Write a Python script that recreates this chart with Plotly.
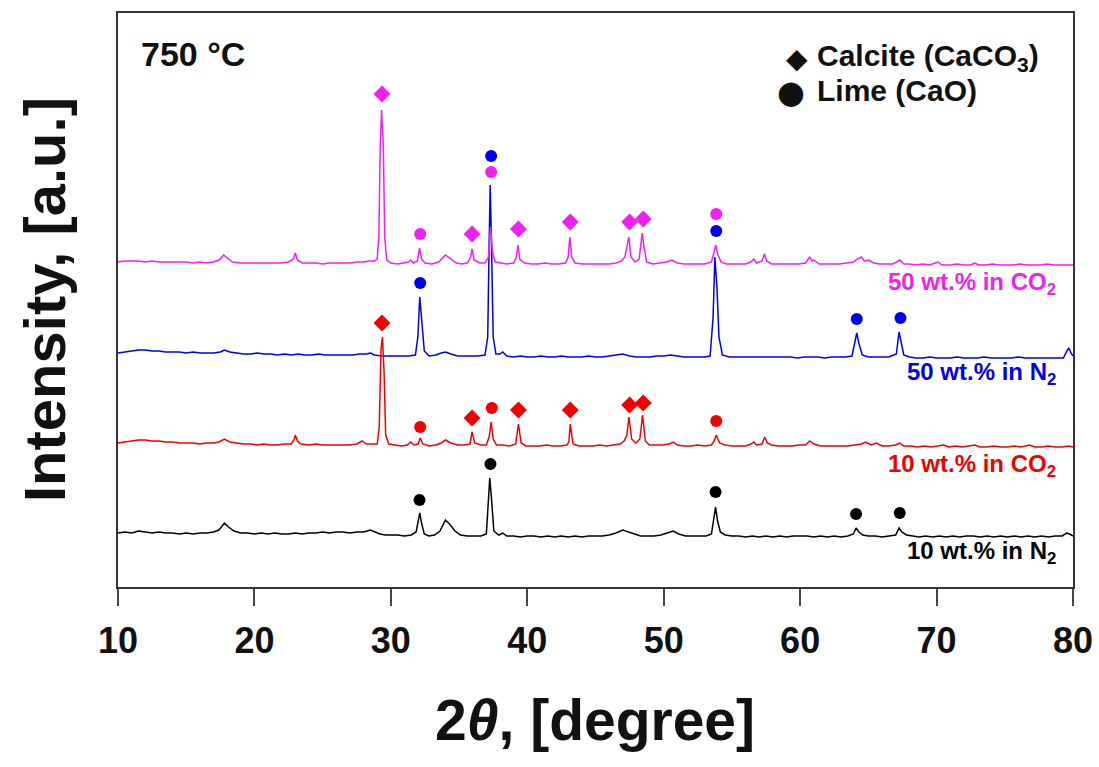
import plotly.graph_objects as go

# ---------------- data (2theta [deg], intensity [a.u., offset stacked]) ----------------
pattern_10_N2 = [
    (10.0,54),(10.5,55),(11.0,54),(11.5,56),(12.0,55),(12.5,54),(13.0,55),(13.5,54),(14.0,54),(14.5,53),
    (15.0,54),(15.5,53),(16.0,54),(16.5,54),(17.0,55),(17.4,57),(17.8,64),(18.1,60),(18.5,56),(19.0,54),
    (19.5,54),(20.0,53),(20.5,54),(21.0,53),(21.5,54),(22.0,53),(22.5,53),(23.0,54),(23.5,53),(24.0,54),
    (24.5,54),(25.0,55),(25.5,54),(26.0,55),(26.5,55),(27.0,54),(27.5,55),(28.0,55),(28.5,57),(28.8,55),
    (29.2,53),(29.6,52),(30.0,52),(30.5,52),(31.0,51),(31.5,52),(31.85,55),(32.0,68),(32.12,74),(32.25,64),
    (32.45,53),(32.8,51),(33.2,52),(33.6,56),(34.0,67),(34.3,63),(34.7,56),(35.1,52),(35.6,51),(36.1,51),
    (36.6,51),(37.0,53),(37.12,80),(37.25,109),(37.38,88),(37.55,56),(37.9,52),(38.2,54),(38.5,51),(39.0,51),
    (39.5,50),(40.0,51),(40.5,51),(41.0,50),(41.5,51),(42.0,50),(42.5,51),(43.0,50),(43.5,51),(44.0,50),
    (44.5,51),(45.0,51),(45.5,51),(46.0,52),(46.5,54),(47.0,57),(47.4,55),(47.8,53),(48.3,51),(48.8,51),
    (49.3,51),(49.8,52),(50.3,54),(50.7,56),(51.1,53),(51.6,51),(52.1,51),(52.6,51),(53.1,51),(53.5,53),
    (53.68,70),(53.8,80),(53.95,66),(54.15,55),(54.5,52),(55.0,51),(55.5,51),(56.0,50),(56.5,51),(57.0,50),
    (57.5,51),(58.0,50),(58.5,51),(59.0,50),(59.5,51),(60.0,51),(60.5,51),(61.0,50),(61.5,51),(62.0,50),
    (62.5,51),(63.0,50),(63.5,51),(63.9,53),(64.1,59),(64.3,55),(64.6,52),(65.0,51),(65.5,51),(66.0,50),
    (66.5,51),(67.0,52),(67.25,59),(67.45,55),(67.8,52),(68.2,51),(68.7,50),(69.2,51),(69.7,50),(70.2,51),
    (70.7,50),(71.2,51),(71.7,50),(72.2,51),(72.7,51),(73.2,50),(73.7,51),(74.2,50),(74.7,51),(75.2,50),
    (75.7,51),(76.2,50),(76.7,51),(77.2,50),(77.7,51),(78.2,50),(78.7,51),(79.2,51),(79.55,54),(79.75,53),
    (80.0,51),
]

pattern_10_CO2 = [
    (10.0,144),(10.5,145),(11.0,146),(11.5,147),(12.0,147),(12.5,146),(13.0,146),(13.5,145),(14.0,145),(14.5,144),
    (15.0,144),(15.5,144),(16.0,143),(16.5,144),(17.0,144),(17.4,145),(17.8,148),(18.2,145),(18.7,144),(19.2,143),
    (19.7,143),(20.2,142),(20.7,143),(21.2,142),(21.7,142),(22.2,143),(22.7,143),(22.9,147),(23.0,152),(23.15,146),
    (23.4,143),(24.0,142),(24.5,143),(25.0,142),(25.5,142),(26.0,142),(26.5,142),(27.0,142),(27.5,143),(27.9,146),
    (28.2,143),(28.6,143),(29.0,143),(29.15,160),(29.28,238),(29.38,250),(29.5,215),(29.62,152),(29.85,143),(30.3,142),
    (30.8,141),(31.2,142),(31.45,145),(31.7,142),(32.0,143),(32.15,149),(32.35,143),(32.8,141),(33.3,142),(33.7,144),
    (34.0,147),(34.4,144),(34.9,142),(35.4,142),(35.8,143),(35.95,155),(36.15,144),(36.6,142),(37.0,142),(37.2,150),
    (37.35,165),(37.5,148),(37.75,142),(38.2,142),(38.7,141),(39.15,143),(39.35,163),(39.55,144),(39.9,141),(40.4,141),
    (40.9,141),(41.4,142),(41.9,141),(42.4,141),(42.9,142),(43.05,145),(43.15,163),(43.35,143),(43.8,141),(44.3,141),
    (44.8,141),(45.3,142),(45.8,141),(46.3,142),(46.8,143),(47.1,146),(47.3,152),(47.45,170),(47.65,148),(47.95,144),
    (48.25,148),(48.45,172),(48.65,146),(48.95,142),(49.4,142),(49.9,142),(50.4,143),(50.7,145),(51.0,142),(51.5,141),
    (52.0,141),(52.5,142),(53.0,141),(53.5,142),(53.7,146),(53.85,152),(54.1,144),(54.5,142),(55.0,141),(55.5,141),
    (56.0,141),(56.4,143),(56.6,145),(56.8,142),(57.2,143),(57.4,150),(57.6,144),(57.9,142),(58.4,141),(58.9,141),
    (59.4,141),(59.9,142),(60.4,142),(60.7,146),(61.0,143),(61.5,141),(62.0,141),(62.5,141),(63.0,141),(63.5,141),
    (64.0,142),(64.5,143),(64.8,145),(65.2,142),(65.6,144),(66.0,141),(66.5,141),(67.0,142),(67.3,144),(67.6,141),
    (68.1,141),(68.6,140),(69.1,141),(69.6,140),(70.1,141),(70.5,142),(70.9,140),(71.4,141),(71.9,140),(72.4,141),
    (72.8,142),(73.2,140),(73.7,140),(74.2,141),(74.7,140),(75.2,140),(75.7,141),(76.2,140),(76.8,142),(77.2,140),
    (77.7,140),(78.2,141),(78.7,140),(79.2,140),(79.7,141),(80.0,140),
]

pattern_50_N2 = [
    (10.0,234),(10.5,235),(11.0,236),(11.5,237),(12.0,237),(12.5,236),(13.0,236),(13.5,235),(14.0,235),(14.5,235),
    (15.0,234),(15.5,235),(16.0,234),(16.5,234),(17.0,234),(17.5,235),(17.8,237),(18.2,235),(18.7,234),(19.2,233),
    (19.7,233),(20.2,234),(20.7,233),(21.2,233),(21.7,232),(22.2,233),(22.7,232),(23.2,233),(23.7,232),(24.2,232),
    (24.7,233),(25.2,232),(25.7,232),(26.2,232),(26.7,232),(27.2,232),(27.7,233),(28.2,233),(28.5,234),(28.8,232),
    (29.3,231),(29.8,231),(30.3,231),(30.8,231),(31.3,231),(31.8,232),(31.98,250),(32.12,290),(32.28,262),(32.45,236),
    (32.8,231),(33.3,232),(33.7,234),(34.0,235),(34.4,233),(34.9,231),(35.4,231),(35.9,231),(36.4,231),(36.9,232),
    (37.1,250),(37.2,340),(37.28,402),(37.38,340),(37.5,250),(37.7,233),(38.0,233),(38.2,235),(38.5,231),(39.0,230),
    (39.5,231),(40.0,230),(40.5,230),(41.0,231),(41.5,230),(42.0,230),(42.5,231),(43.0,230),(43.5,230),(44.0,230),
    (44.5,231),(45.0,230),(45.5,230),(46.0,231),(46.5,232),(47.0,233),(47.5,231),(48.0,230),(48.5,230),(49.0,230),
    (49.5,231),(50.0,231),(50.5,232),(51.0,231),(51.5,230),(52.0,230),(52.5,230),(53.0,230),(53.4,231),(53.62,270),
    (53.75,330),(53.9,300),(54.05,250),(54.3,232),(54.8,230),(55.3,230),(55.8,230),(56.3,230),(56.8,230),(57.3,230),
    (57.8,230),(58.3,230),(58.8,230),(59.3,230),(59.8,229),(60.3,230),(60.8,230),(61.3,230),(61.8,229),(62.3,230),
    (62.8,230),(63.3,230),(63.8,231),(64.0,243),(64.15,254),(64.3,244),(64.55,232),(65.0,230),(65.5,230),(66.0,230),
    (66.5,230),(67.05,233),(67.25,255),(67.4,245),(67.6,232),(68.0,230),(68.5,229),(69.0,229),(69.5,230),(70.0,229),
    (70.5,229),(71.0,229),(71.5,230),(72.0,229),(72.5,229),(73.0,229),(73.5,230),(74.0,229),(74.5,229),(75.0,229),
    (75.5,229),(76.0,230),(76.5,229),(77.0,229),(77.5,229),(78.0,229),(78.5,229),(79.0,229),(79.3,229),(79.55,236),
    (79.7,239),(79.85,234),(80.0,231),
]

pattern_50_CO2 = [
    (10.0,325),(10.5,326),(11.0,326),(11.5,326),(12.0,325),(12.5,326),(13.0,325),(13.5,325),(14.0,325),(14.5,325),
    (15.0,325),(15.5,324),(16.0,325),(16.5,324),(17.0,325),(17.4,327),(17.75,332),(18.0,329),(18.4,325),(19.0,324),
    (19.5,324),(20.0,324),(20.5,324),(21.0,324),(21.5,324),(22.0,324),(22.5,325),(22.85,328),(23.0,334),(23.15,327),
    (23.5,324),(24.0,324),(24.5,324),(25.0,323),(25.5,324),(26.0,324),(26.5,324),(27.0,324),(27.5,325),(28.0,325),
    (28.4,326),(28.8,326),(29.0,328),(29.12,350),(29.22,440),(29.32,477),(29.45,440),(29.55,350),(29.7,327),(30.0,324),
    (30.5,323),(31.0,324),(31.3,325),(31.45,327),(31.65,324),(31.95,326),(32.1,339),(32.25,328),(32.5,324),(33.0,323),
    (33.5,325),(34.0,332),(34.4,328),(34.8,324),(35.2,323),(35.6,324),(35.85,330),(35.95,338),(36.1,327),(36.5,324),
    (36.9,324),(37.15,330),(37.3,360),(37.45,335),(37.65,325),(38.0,324),(38.5,323),(39.0,324),(39.2,330),(39.32,342),
    (39.45,328),(39.8,324),(40.3,323),(40.8,323),(41.3,324),(41.8,323),(42.3,323),(42.8,324),(43.0,330),(43.12,350),
    (43.25,330),(43.5,324),(44.0,323),(44.5,323),(45.0,323),(45.5,323),(46.0,323),(46.5,324),(46.9,326),(47.15,330),
    (47.35,345),(47.45,350),(47.6,330),(47.9,325),(48.2,328),(48.42,354),(48.55,340),(48.75,325),(49.2,323),(49.7,324),
    (50.2,325),(50.6,327),(51.0,324),(51.5,323),(52.0,323),(52.5,323),(53.0,323),(53.5,325),(53.7,335),(53.82,342),
    (53.95,333),(54.2,325),(54.6,323),(55.0,323),(55.5,323),(56.0,323),(56.4,325),(56.6,328),(56.8,324),(57.2,326),
    (57.38,333),(57.55,326),(57.9,323),(58.4,323),(58.9,323),(59.4,323),(59.9,323),(60.4,324),(60.7,330),(60.85,326),
    (61.0,327),(61.4,323),(61.9,323),(62.4,323),(62.9,323),(63.4,324),(63.9,325),(64.2,328),(64.5,330),(64.7,326),
    (65.0,327),(65.4,324),(65.8,323),(66.3,323),(66.8,323),(67.3,327),(67.6,323),(68.0,323),(68.5,322),(69.0,323),
    (69.5,322),(70.1,325),(70.4,322),(71.0,322),(71.5,323),(72.0,322),(72.5,322),(72.8,324),(73.1,322),(73.6,322),
    (74.1,323),(74.6,322),(75.1,322),(75.6,322),(76.1,323),(76.6,322),(77.1,322),(77.6,322),(78.1,323),(78.6,322),
    (79.1,322),(79.6,322),(80.0,322),
]

# phase markers above peaks: (2theta, height)
calcite_50_CO2 = [(29.35,493),(35.95,353),(39.35,358),(43.15,365),(47.5,365),(48.5,368)]
lime_50_CO2 = [(32.15,353),(37.35,415),(53.85,373)]
lime_50_N2 = [(32.15,304),(37.35,431),(53.85,356),(64.15,268),(67.35,269)]
calcite_10_CO2 = [(29.35,264),(35.95,169),(39.35,177),(43.15,177),(47.5,182),(48.5,184)]
lime_10_CO2 = [(32.15,160),(37.4,179),(53.85,166)]
lime_10_N2 = [(32.1,87),(37.3,123),(53.8,95),(64.1,73),(67.3,74)]

series_labels = ["10 wt.% in N<sub>2</sub>", "10 wt.% in CO<sub>2</sub>",
                 "50 wt.% in N<sub>2</sub>", "50 wt.% in CO<sub>2</sub>"]
x_ticks = [10, 20, 30, 40, 50, 60, 70, 80]

# ---------------- styling ----------------
FONT = "Liberation Sans, Arial, sans-serif"
C_BLACK, C_RED, C_BLUE, C_MAG = "#000000", "#F00000", "#0000EE", "#F020F0"
W, H = 1099, 767
L, R, T, B = 118, 26, 13, 180
PW, PH = W - L - R, H - T - B


def px(xp):
    return (xp - L) / PW


def py(yp):
    return (H - B - yp) / PH


fig = go.Figure()


def add_pattern(pts, color):
    fig.add_trace(go.Scatter(x=[p[0] for p in pts], y=[p[1] for p in pts], mode="lines",
                             line=dict(color=color, width=1.5), showlegend=False, hoverinfo="skip"))


def add_marks(pts, color, symbol, size):
    fig.add_trace(go.Scatter(x=[p[0] for p in pts], y=[p[1] for p in pts], mode="markers",
                             marker=dict(color=color, symbol=symbol, size=size, line=dict(width=0)),
                             showlegend=False, hoverinfo="skip"))


add_pattern(pattern_10_N2, C_BLACK)
add_pattern(pattern_50_N2, C_BLUE)
add_pattern(pattern_10_CO2, C_RED)
add_pattern(pattern_50_CO2, C_MAG)

add_marks(lime_10_N2, C_BLACK, "circle", 12)
add_marks(calcite_10_CO2, C_RED, "diamond", 13)
add_marks(lime_10_CO2, C_RED, "circle", 12)
add_marks(lime_50_N2, C_BLUE, "circle", 12)
add_marks(calcite_50_CO2, C_MAG, "diamond", 13)
add_marks(lime_50_CO2, C_MAG, "circle", 12)

annotations = []
# series labels
label_pos = [(552, C_BLACK), (465, C_RED), (373, C_BLUE), (283, C_MAG)]
for text, (yy, col) in zip(series_labels, label_pos):
    annotations.append(dict(x=px(1058), y=py(yy), xref="paper", yref="paper", xanchor="right",
                            yanchor="middle", text=text, showarrow=False,
                            font=dict(family=FONT, size=24, color=col, weight="bold")))
# temperature
annotations.append(dict(x=px(139), y=py(54), xref="paper", yref="paper", xanchor="left", yanchor="middle",
                        text="750 °C", showarrow=False,
                        font=dict(family=FONT, size=34, color="#111", weight="bold")))
# phase key
annotations.append(dict(x=px(797), y=py(58), xref="paper", yref="paper", xanchor="center", yanchor="middle",
                        text="◆", showarrow=False, font=dict(family="DejaVu Sans", size=28, color="#111")))
annotations.append(dict(x=px(791), y=py(92), xref="paper", yref="paper", xanchor="center", yanchor="middle",
                        text="●", showarrow=False, font=dict(family="DejaVu Sans", size=32, color="#111")))
annotations.append(dict(x=px(815), y=py(57), xref="paper", yref="paper", xanchor="left", yanchor="middle",
                        text="Calcite (CaCO<sub>3</sub>)", showarrow=False,
                        font=dict(family=FONT, size=30, color="#111", weight="bold")))
annotations.append(dict(x=px(815), y=py(90), xref="paper", yref="paper", xanchor="left", yanchor="middle",
                        text="Lime (CaO)", showarrow=False,
                        font=dict(family=FONT, size=30, color="#111", weight="bold")))
# axis titles
annotations.append(dict(x=px(595), y=py(720), xref="paper", yref="paper", xanchor="center", yanchor="middle",
                        text="2<i>θ</i>, [degree]", showarrow=False,
                        font=dict(family=FONT, size=57, color="#111", weight="bold")))
annotations.append(dict(x=px(44), y=py(300), xref="paper", yref="paper", xanchor="center", yanchor="middle",
                        text="Intensity, [a.u.]", textangle=-90, showarrow=False,
                        font=dict(family=FONT, size=58, color="#111", weight="bold")))

fig.update_layout(
    width=W, height=H,
    margin=dict(l=L, r=R, t=T, b=B, autoexpand=False),
    paper_bgcolor="white", plot_bgcolor="white",
    annotations=annotations,
    showlegend=False,
)
fig.update_xaxes(range=[10, 80], tickvals=x_ticks, ticktext=[str(t) for t in x_ticks],
                 showgrid=False, zeroline=False, showline=True, mirror=True, automargin=False,
                 linecolor="#333", linewidth=1.5, ticks="outside", ticklen=17, tickwidth=1.5,
                 tickcolor="#444", ticklabelstandoff=4,
                 tickfont=dict(family=FONT, size=36, color="#111", weight="bold"))
fig.update_yaxes(range=[0, 574], showgrid=False, zeroline=False, showline=True, mirror=True,
                 automargin=False,
                 linecolor="#333", linewidth=1.5, showticklabels=False, ticks="")

fig.write_html("out.html", config={"displayModeBar": False},
               post_script="document.body.style.margin='0';document.body.style.padding='0';")
